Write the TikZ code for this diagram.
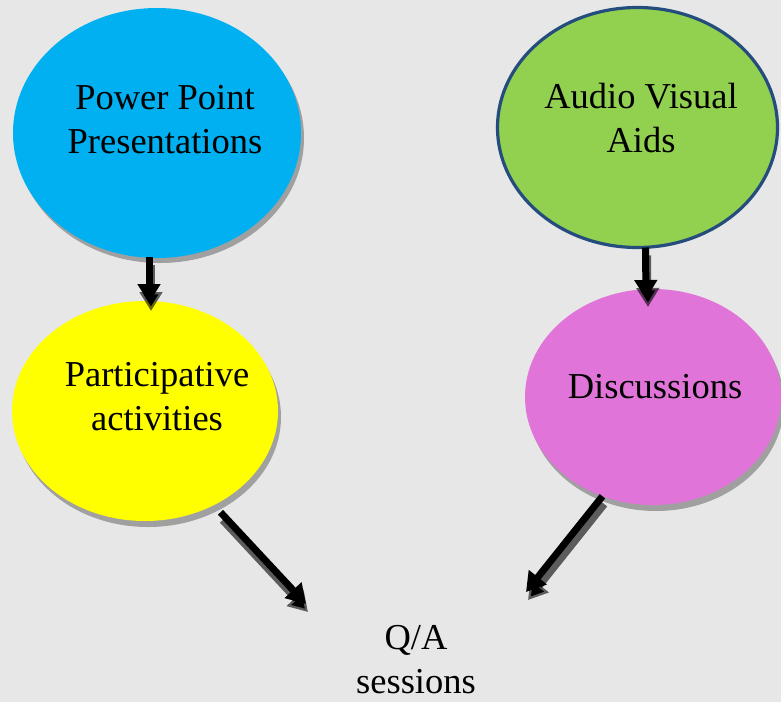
\documentclass[tikz,border=0pt]{standalone}
\usepackage{fontspec}
\setmainfont{Liberation Serif}
\usetikzlibrary{shapes.geometric,arrows.meta,calc}
\definecolor{bg}{HTML}{E7E7E7}
\definecolor{ppblue}{HTML}{00B0F0}
\definecolor{avgreen}{HTML}{92D050}
\definecolor{avborder}{HTML}{244D7E}
\definecolor{pinkc}{HTML}{E074D8}
\definecolor{yell}{HTML}{FFFF00}
\definecolor{eshadow}{HTML}{A0A0A0}
\tikzset{
  bubble/.style={ellipse, inner sep=0pt, outer sep=0pt},
  lbl/.style={font=\fontsize{36.5}{43.5}\selectfont, align=center, inner sep=0pt, anchor=base},
  arr/.style={line width=7pt, -{Triangle[length=19pt,width=22pt]}},
  arrblack/.style={arr, draw=black},
  arrshadow/.style={arr, draw=black, draw opacity=0.6}
}
\begin{document}
\begin{tikzpicture}[x=1pt,y=-1pt]
\useasboundingbox (0,0) rectangle (781,702);
\fill[bg] (0,0) rectangle (781,702);
% shadows of bubbles
\fill[eshadow] (160,138) ellipse [x radius=144, y radius=125];
\fill[eshadow] (148,417) ellipse [x radius=133, y radius=110];
\fill[eshadow] (656,403) ellipse [x radius=128, y radius=108];
% bubbles
\node[bubble, fill=ppblue, minimum width=288pt, minimum height=250pt] (pp) at (157,133) {};
\node[bubble, fill=avgreen, draw=avborder, line width=3.2pt, minimum width=280pt, minimum height=240pt] (av) at (637.5,127.5) {};
\node[bubble, fill=yell, minimum width=266pt, minimum height=220pt] (pa) at (145,411) {};
\node[bubble, fill=pinkc, minimum width=256pt, minimum height=216pt] (di) at (653,397) {};
% labels (base anchor = last line baseline)
\node[lbl] (tpp) at (165,153) {Power Point\\Presentations};
\node[lbl] (tav) at (641,152) {Audio Visual\\Aids};
\node[lbl] (tpa) at (157,430) {Participative\\activities};
\node[lbl] (tdi) at (655,398) {Discussions};
\node[lbl] (tqa) at (416,693) {Q/A\\sessions};
% arrow end points
\coordinate (a1s) at ($(pp.south)+(-8,-1)$);
\coordinate (a1e) at ($(pa.north)+(4,2)$);
\coordinate (a4s) at ($(av.south)+(8,0)$);
\coordinate (a4e) at ($(di.north)+(-7,10)$);
\coordinate (a2s) at ($(pa.-54)+(7,7)$);
\coordinate (q1) at (306,604);
\coordinate (a3s) at (di.-117);
\coordinate (q2) at (526,592);
% arrow shadows
\begin{scope}[transform canvas={shift={(2pt,-8pt)}}]
\draw[arrshadow] (a1s) -- (a1e);
\draw[arrshadow] (a4s) -- (a4e);
\draw[arrshadow] (a2s) -- (q1);
\draw[arrshadow] (a3s) -- (q2);
\end{scope}
% arrows
\draw[arrblack] (a1s) -- (a1e);
\draw[arrblack] (a4s) -- (a4e);
\draw[arrblack] (a2s) -- (q1);
\draw[arrblack] (a3s) -- (q2);
\end{tikzpicture}
\end{document}
